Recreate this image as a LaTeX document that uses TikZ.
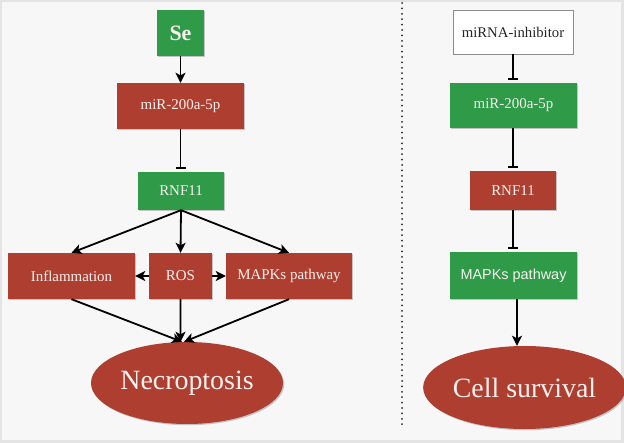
\documentclass[tikz,border=0pt]{standalone}
\usepackage{fontspec}
\setmainfont{Liberation Serif}
\setsansfont{Liberation Sans}
\usetikzlibrary{arrows.meta,shadows,shapes.geometric}
\definecolor{bggray}{HTML}{F7F7F7}
\definecolor{framegray}{HTML}{E4E4E4}
\definecolor{boxgreen}{HTML}{2F9A47}
\definecolor{boxred}{HTML}{AE3F30}
\definecolor{txtlight}{HTML}{F6F1EE}
\tikzset{
  shad/.style={drop shadow={shadow xshift=1.2bp,shadow yshift=-1.2bp,opacity=0.35,fill=black!60}},
  gbox/.style={rectangle,fill=boxgreen,text=txtlight,inner sep=0pt,shad,font=\fontsize{15}{17}\selectfont},
  rbox/.style={rectangle,fill=boxred,text=txtlight,inner sep=0pt,shad,font=\fontsize{15}{17}\selectfont},
  wbox/.style={rectangle,fill=white,draw=black!45,line width=0.8bp,text=black!85,inner sep=0pt,font=\fontsize{14.8}{17}\selectfont},
  rell/.style={ellipse,fill=boxred,text=txtlight,inner sep=0pt,shad,font=\fontsize{28}{32}\selectfont},
  act/.style={line width=1.8bp,-{Stealth[length=10bp,width=10bp,inset=2.5bp]}},
  inhib/.style={line width=1.8bp,-{Bar[width=10bp,length=1.8bp]},shorten >=3bp},
}
\begin{document}
\begin{tikzpicture}[x=1bp,y=-1bp]
\useasboundingbox (0,0) rectangle (624,443);
\fill[framegray] (0,0) rectangle (624,443);
\fill[bggray] (2,2) rectangle (621,440);
% left column
\node[gbox,minimum width=47bp,minimum height=46bp,font=\fontsize{22}{24}\selectfont\bfseries] (se) at (180.5,33) {Se};
\node[rbox,minimum width=127bp,minimum height=46bp] (mirL) at (180.5,106) {miR-200a-5p};
\node[gbox,minimum width=86bp,minimum height=38bp] (rnfL) at (181,191) {RNF11};
\node[rbox,minimum width=127bp,minimum height=46bp] (infl) at (71.5,276) {Inflammation};
\node[rbox,minimum width=63bp,minimum height=46bp] (ros) at (180.5,276) {ROS};
\node[rbox,minimum width=126bp,minimum height=46bp] (mapkL) at (289,276) {MAPKs pathway};
\node[rell,minimum width=192bp,minimum height=82bp] (necro) at (187,383) {Necroptosis};
\draw[act] (se) -- (mirL);
\draw[inhib] (mirL) -- (mirL|-rnfL.north);
\draw[act] (rnfL.south) -- (infl.north);
\draw[act] (rnfL.south) -- (ros.north);
\draw[act] (rnfL.south) -- (mapkL.north);
\draw[act] (ros) -- (infl);
\draw[act] (ros) -- (mapkL);
\draw[act] (infl.south) -- ([xshift=-5bp]necro.north);
\draw[act] (ros.south) -- ([xshift=-6.5bp]necro.north);
\draw[act] (mapkL.south) -- ([xshift=-3bp]necro.north);
% divider
\coordinate (dtop) at (402,3);
\coordinate (dbot) at (402,425);
\draw[line width=2bp,line cap=round,dash pattern=on 0bp off 5.4bp,black!85] (dtop) -- (dbot);
% right column
\node[wbox,minimum width=120bp,minimum height=44bp] (inh) at (513,32) {miRNA-inhibitor};
\node[gbox,minimum width=127bp,minimum height=45bp] (mirR) at (513.5,105.5) {miR-200a-5p};
\node[rbox,minimum width=86bp,minimum height=39bp] (rnfR) at (513,190.5) {RNF11};
\node[gbox,minimum width=127bp,minimum height=47bp,font=\sffamily\fontsize{14.5}{17}\selectfont] (mapkR) at (513.5,275.5) {MAPKs pathway};
\node[rell,minimum width=193bp,minimum height=83bp] (surv) at (524.5,387.5) {Cell survival};
\draw[inhib] (inh) -- (inh|-mirR.north);
\draw[inhib] (rnfR|-mirR.south) -- (rnfR.north);
\draw[inhib] (rnfR) -- (rnfR|-mapkR.north);
\draw[act] ([xshift=3.5bp]mapkR.south) -- ([xshift=-7.5bp]surv.north);
\end{tikzpicture}
\end{document}
